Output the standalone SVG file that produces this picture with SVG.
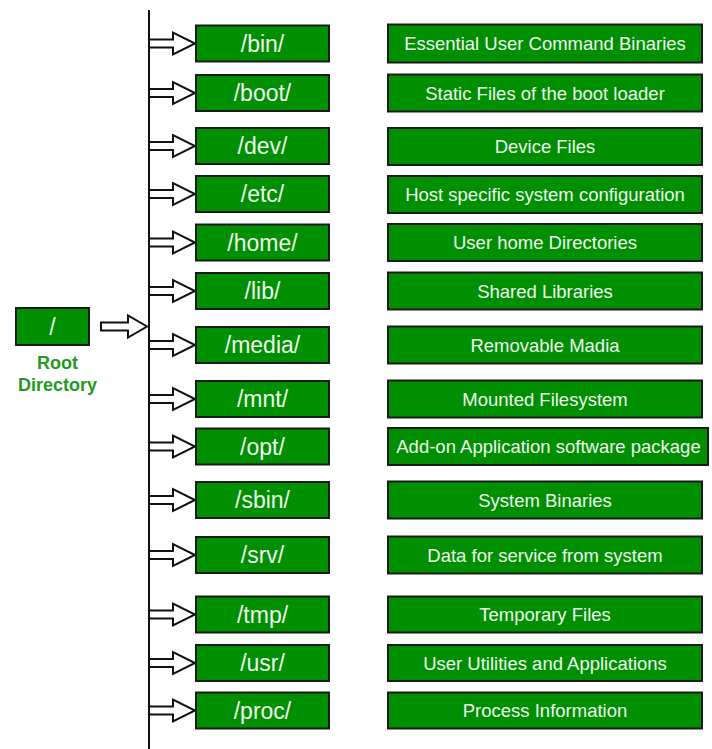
<svg xmlns="http://www.w3.org/2000/svg" width="712" height="749" viewBox="0 0 712 749">
<style>
.bx{fill:#008f00;stroke:#1a1a1a;stroke-width:2}
.lt{font-family:"Liberation Sans",Arial,sans-serif;font-size:23px;fill:#eef8ee;text-anchor:middle}
.rt{font-family:"Liberation Sans",Arial,sans-serif;font-size:18.5px;fill:#eef8ee;text-anchor:middle}
.ar{fill:#fff;stroke:#111;stroke-width:2;stroke-linejoin:miter}
.gl{font-family:"Liberation Sans",Arial,sans-serif;font-size:18px;font-weight:bold;fill:#1f9a1f;text-anchor:middle}
</style>
<rect width="712" height="749" fill="#fff"/>
<defs>
<polygon id="arw" class="ar" points="0,-4 24,-4 24,-11 46,0 24,11 24,4 0,4"/>
</defs>
<g id="connectors">
<line x1="149" y1="10" x2="149" y2="749" stroke="#111" stroke-width="2"/>
<polygon class="ar" points="101,322.5 128,322.5 128,315.5 147,326.5 128,337.5 128,330.5 101,330.5"/>
<use href="#arw" x="149" y="43.5"/>
<use href="#arw" x="149" y="93"/>
<use href="#arw" x="149" y="146"/>
<use href="#arw" x="149" y="194"/>
<use href="#arw" x="149" y="242.5"/>
<use href="#arw" x="149" y="291"/>
<use href="#arw" x="149" y="345"/>
<use href="#arw" x="149" y="399"/>
<use href="#arw" x="149" y="446.5"/>
<use href="#arw" x="149" y="500"/>
<use href="#arw" x="149" y="555"/>
<use href="#arw" x="149" y="614.5"/>
<use href="#arw" x="149" y="663"/>
<use href="#arw" x="149" y="710.5"/>
</g>
<g id="root">
<rect class="bx" x="16" y="308" width="73" height="37"/>
<text class="lt" x="52.5" y="334.5">/</text>
<text class="gl" x="57.5" y="369">Root</text>
<text class="gl" x="57.5" y="390.5">Directory</text>
</g>
<g id="bin"><rect class="bx" x="196" y="25.5" width="133" height="36"/><text class="lt" x="262.5" y="51.5">/bin/</text></g>
<g id="boot"><rect class="bx" x="196" y="75" width="133" height="36"/><text class="lt" x="262.5" y="101">/boot/</text></g>
<g id="dev"><rect class="bx" x="196" y="128" width="133" height="36"/><text class="lt" x="262.5" y="154">/dev/</text></g>
<g id="etc"><rect class="bx" x="196" y="176" width="133" height="36"/><text class="lt" x="262.5" y="202">/etc/</text></g>
<g id="home"><rect class="bx" x="196" y="224.5" width="133" height="36"/><text class="lt" x="262.5" y="250.5">/home/</text></g>
<g id="lib"><rect class="bx" x="196" y="273" width="133" height="36"/><text class="lt" x="262.5" y="299">/lib/</text></g>
<g id="media"><rect class="bx" x="196" y="327" width="133" height="36"/><text class="lt" x="262.5" y="353">/media/</text></g>
<g id="mnt"><rect class="bx" x="196" y="381" width="133" height="36"/><text class="lt" x="262.5" y="407">/mnt/</text></g>
<g id="opt"><rect class="bx" x="196" y="428.5" width="133" height="36"/><text class="lt" x="262.5" y="454.5">/opt/</text></g>
<g id="sbin"><rect class="bx" x="196" y="482" width="133" height="36"/><text class="lt" x="262.5" y="508">/sbin/</text></g>
<g id="srv"><rect class="bx" x="196" y="537" width="133" height="36"/><text class="lt" x="262.5" y="563">/srv/</text></g>
<g id="tmp"><rect class="bx" x="196" y="596.5" width="133" height="36"/><text class="lt" x="262.5" y="622.5">/tmp/</text></g>
<g id="usr"><rect class="bx" x="196" y="645" width="133" height="36"/><text class="lt" x="262.5" y="671">/usr/</text></g>
<g id="proc"><rect class="bx" x="196" y="692.5" width="133" height="36"/><text class="lt" x="262.5" y="718.5">/proc/</text></g>
<g id="d-bin"><rect class="bx" x="388" y="24.5" width="314" height="38"/><text class="rt" x="545" y="50">Essential User Command Binaries</text></g>
<g id="d-boot"><rect class="bx" x="388" y="74.5" width="314" height="37"/><text class="rt" x="545" y="99.5">Static Files of the boot loader</text></g>
<g id="d-dev"><rect class="bx" x="388" y="128" width="314" height="37"/><text class="rt" x="545" y="152.5">Device Files</text></g>
<g id="d-etc"><rect class="bx" x="388" y="176" width="314" height="37"/><text class="rt" x="545" y="200.5">Host specific system configuration</text></g>
<g id="d-home"><rect class="bx" x="388" y="224" width="314" height="37"/><text class="rt" x="545" y="249">User home Directories</text></g>
<g id="d-lib"><rect class="bx" x="388" y="272.5" width="314" height="37"/><text class="rt" x="545" y="297.5">Shared Libraries</text></g>
<g id="d-media"><rect class="bx" x="388" y="326.5" width="314" height="37"/><text class="rt" x="545" y="351.5">Removable Madia</text></g>
<g id="d-mnt"><rect class="bx" x="388" y="380.5" width="314" height="37"/><text class="rt" x="545" y="405.5">Mounted Filesystem</text></g>
<g id="d-opt"><rect class="bx" x="388" y="428" width="320" height="37"/><text class="rt" x="548.5" y="453">Add-on Application software package</text></g>
<g id="d-sbin"><rect class="bx" x="388" y="481.5" width="314" height="37"/><text class="rt" x="545" y="506.5">System Binaries</text></g>
<g id="d-srv"><rect class="bx" x="388" y="536.5" width="314" height="37"/><text class="rt" x="545" y="561.5">Data for service from system</text></g>
<g id="d-tmp"><rect class="bx" x="388" y="596.5" width="314" height="36"/><text class="rt" x="545" y="621">Temporary Files</text></g>
<g id="d-usr"><rect class="bx" x="388" y="645" width="314" height="36"/><text class="rt" x="545" y="669.5">User Utilities and Applications</text></g>
<g id="d-proc"><rect class="bx" x="388" y="692.5" width="314" height="36"/><text class="rt" x="545" y="717">Process Information</text></g>
</svg>
